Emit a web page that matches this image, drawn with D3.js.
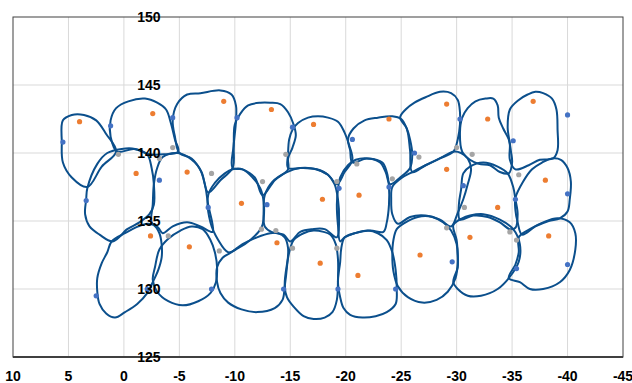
<!DOCTYPE html>
<html>
<head>
<meta charset="utf-8">
<script src="https://cdn.jsdelivr.net/npm/d3@7"></script>
<style>
  body { margin: 0; background: #fff; }
  text { font-family: "Liberation Sans", Arial, sans-serif; font-weight: bold; fill: #000; }
</style>
</head>
<body>
<svg id="chart"></svg>
<script>
const width = 632;
const height = 383;
const margin = { top: 17, right: 9, bottom: 26, left: 13 };

const xTicks = [10, 5, 0, -5, -10, -15, -20, -25, -30, -35, -40, -45];
const yTicks = [125, 130, 135, 140, 145, 150];

// outlines of the cells, one list of [x, y] per closed curve
const cells = [
  [[5.5,142.4],[4.7,142.8],[3.6,142.8],[2.5,142.4],[1.6,141.4],[0.7,140.1],[2.0,139.0],[3.3,137.5],[4.7,138.2],[5.5,139.3],[5.6,140.8]],
  [[1.2,142.4],[0.7,143.3],[-0.4,143.8],[-1.9,144.0],[-3.0,143.7],[-3.8,143.2],[-4.2,142.3],[-4.6,141.0],[-4.9,140.1],[-3.6,139.9],[-2.3,139.9],[-0.9,140.3],[0.6,140.1],[1.2,141.2]],
  [[-4.4,142.4],[-4.8,143.6],[-5.7,144.3],[-6.9,144.4],[-8.7,144.6],[-9.7,144.3],[-10.1,143.5],[-10.1,142.3],[-9.9,140.6],[-9.8,138.9],[-8.7,138.0],[-7.6,137.1],[-7.0,138.6],[-6.1,139.6],[-5.0,140.0],[-4.6,141.2]],
  [[-10.0,142.1],[-10.5,142.9],[-11.2,143.5],[-12.3,143.7],[-13.2,143.7],[-14.1,143.6],[-14.8,143.0],[-15.3,142.1],[-15.5,141.3],[-15.2,140.4],[-14.8,139.6],[-14.8,138.8],[-13.6,138.0],[-12.5,136.9],[-11.8,138.2],[-10.7,138.8],[-9.8,138.9],[-9.9,140.6]],
  [[-14.9,141.0],[-15.2,141.7],[-15.7,142.2],[-16.6,142.6],[-17.5,142.7],[-18.4,142.6],[-19.3,142.3],[-19.9,141.5],[-20.3,140.6],[-20.6,139.5],[-19.9,138.6],[-19.2,137.7],[-18.4,138.4],[-17.3,138.8],[-15.9,138.9],[-14.8,138.9],[-14.8,139.9]],
  [[-20.2,141.0],[-20.7,141.8],[-21.7,142.4],[-22.9,142.6],[-24.2,142.7],[-25.0,142.5],[-25.5,141.8],[-25.8,141.0],[-26.0,139.9],[-25.8,138.9],[-24.9,138.2],[-24.0,137.7],[-23.6,138.6],[-23.1,139.3],[-21.9,139.6],[-20.6,139.3],[-20.4,140.2]],
  [[-24.9,142.6],[-25.4,143.2],[-26.2,143.7],[-27.2,144.1],[-28.5,144.5],[-29.5,144.4],[-30.1,143.9],[-30.3,143.0],[-30.3,142.1],[-30.1,141.0],[-29.7,140.1],[-28.5,139.6],[-27.2,139.1],[-26.0,138.6],[-25.8,140.2],[-25.5,141.8]],
  [[-30.3,141.5],[-30.5,142.6],[-31.0,143.3],[-31.7,143.8],[-32.6,144.0],[-33.3,144.0],[-33.7,143.5],[-33.8,142.6],[-34.2,141.8],[-34.7,141.0],[-34.9,140.1],[-35.0,139.3],[-34.7,138.5],[-33.9,138.6],[-33.0,139.1],[-32.0,139.2],[-31.2,139.5],[-30.5,140.1]],
  [[-34.6,141.9],[-34.8,143.2],[-35.6,143.9],[-36.4,144.3],[-37.1,144.5],[-37.8,144.4],[-38.6,144.0],[-39.0,143.2],[-39.1,141.7],[-39.1,140.2],[-38.7,139.6],[-37.5,139.5],[-36.5,139.1],[-35.3,138.8],[-34.8,139.5],[-34.8,140.6]],
  [[3.3,137.4],[2.4,139.2],[1.5,140.0],[0.2,140.3],[-1.0,140.3],[-2.1,139.9],[-2.5,138.9],[-2.7,137.7],[-2.7,136.2],[-2.3,135.5],[-1.4,134.9],[-0.3,134.4],[1.0,133.5],[2.2,134.0],[3.1,134.6],[3.5,135.5],[3.4,136.6]],
  [[-3.0,138.9],[-3.5,139.7],[-4.8,140.0],[-5.8,139.7],[-6.8,138.9],[-7.3,137.7],[-7.6,136.2],[-8.0,134.7],[-8.0,134.2],[-6.9,134.6],[-5.7,134.9],[-4.4,134.6],[-3.5,134.1],[-3.1,134.5],[-2.5,134.9],[-2.6,136.2],[-2.7,137.7]],
  [[-7.6,136.9],[-8.2,137.8],[-9.1,138.5],[-9.8,138.8],[-10.7,138.8],[-11.6,138.2],[-12.3,137.4],[-12.6,136.4],[-12.6,135.2],[-12.4,134.5],[-11.4,133.6],[-10.3,133.0],[-9.4,132.7],[-8.5,133.6],[-7.8,134.9]],
  [[-12.7,136.9],[-13.4,137.9],[-14.7,138.6],[-15.9,138.9],[-17.4,138.8],[-18.4,138.4],[-19.0,137.7],[-19.3,136.6],[-19.4,135.1],[-19.2,133.8],[-18.1,134.4],[-17.0,134.4],[-15.9,134.2],[-15.0,133.5],[-14.4,134.0],[-13.3,134.2],[-12.7,134.6],[-12.6,135.8]],
  [[-19.5,138.2],[-20.2,139.1],[-20.9,139.5],[-22.0,139.6],[-23.3,139.3],[-23.7,138.6],[-23.9,137.5],[-23.9,136.2],[-23.7,134.9],[-23.4,134.2],[-22.2,134.3],[-20.8,134.1],[-19.9,133.8],[-19.5,133.5],[-19.3,134.7],[-19.2,136.2],[-19.3,137.3]],
  [[-24.2,137.5],[-25.1,138.2],[-26.0,138.6],[-27.2,139.1],[-28.7,139.7],[-29.7,140.1],[-30.4,140.0],[-31.0,139.6],[-31.3,138.8],[-31.0,137.7],[-30.6,136.6],[-30.1,135.6],[-29.5,134.6],[-28.5,135.1],[-27.2,135.4],[-25.8,135.3],[-24.7,134.8],[-24.2,135.5],[-24.1,136.6]],
  [[-30.6,138.5],[-31.2,139.0],[-32.4,139.3],[-33.7,139.0],[-34.6,138.5],[-35.1,137.5],[-35.3,136.6],[-35.5,135.5],[-35.3,134.5],[-34.8,134.4],[-33.9,134.9],[-32.8,135.3],[-31.5,135.4],[-30.3,135.1],[-30.2,136.2],[-30.4,137.3]],
  [[-35.3,136.7],[-36.0,137.9],[-36.8,138.8],[-37.7,139.3],[-38.6,139.6],[-39.4,139.5],[-40.0,138.9],[-40.3,137.9],[-40.2,136.6],[-40.0,135.7],[-39.3,135.2],[-38.3,135.0],[-37.1,134.6],[-35.9,134.0],[-35.5,134.9],[-35.3,135.8]],
  [[1.1,133.5],[-0.1,134.1],[-1.3,134.6],[-2.1,134.8],[-2.7,134.7],[-3.2,134.1],[-3.4,133.3],[-3.4,132.3],[-3.1,131.4],[-2.6,130.5],[-2.1,129.7],[-1.2,128.9],[-0.1,128.3],[0.8,127.9],[1.6,128.2],[2.2,128.9],[2.4,129.8],[2.4,130.8],[2.0,131.9],[1.5,132.7]],
  [[-2.8,131.6],[-3.2,132.9],[-4.0,133.7],[-5.1,134.3],[-6.1,134.6],[-7.1,134.4],[-7.8,133.6],[-8.2,132.7],[-8.4,131.6],[-8.3,130.5],[-7.8,129.7],[-6.7,129.1],[-5.3,128.8],[-4.0,129.1],[-3.0,129.8],[-2.6,130.7]],
  [[-8.4,131.6],[-8.9,132.3],[-9.7,132.7],[-10.7,133.3],[-12.0,133.8],[-13.2,134.1],[-13.9,134.1],[-14.5,133.8],[-14.8,133.0],[-14.7,131.6],[-14.5,130.2],[-14.3,129.2],[-13.6,128.6],[-12.0,128.3],[-10.6,128.5],[-9.4,129.0],[-8.7,129.7],[-8.4,130.5]],
  [[-15.0,133.0],[-15.3,133.6],[-16.2,134.1],[-17.1,134.3],[-18.0,134.2],[-18.6,134.0],[-19.1,133.3],[-19.3,132.2],[-19.3,130.7],[-19.2,129.2],[-18.8,128.3],[-18.1,127.9],[-17.1,127.8],[-16.2,128.0],[-15.3,128.7],[-14.7,129.4],[-14.5,130.3],[-14.7,131.8]],
  [[-19.3,130.5],[-19.5,132.0],[-19.6,133.0],[-19.9,133.8],[-20.8,134.1],[-22.0,134.3],[-22.9,134.1],[-23.7,133.6],[-24.2,132.7],[-24.5,131.4],[-24.6,130.0],[-24.5,128.9],[-23.7,128.3],[-22.7,128.0],[-21.5,127.9],[-20.4,128.1],[-19.8,128.6],[-19.5,129.4]],
  [[-24.3,133.6],[-24.6,134.4],[-25.4,134.9],[-26.5,135.3],[-27.8,135.3],[-28.8,134.9],[-29.5,134.3],[-30.0,133.3],[-30.1,132.0],[-29.9,130.8],[-29.2,129.8],[-28.2,129.2],[-26.9,129.0],[-25.6,129.4],[-24.7,130.2],[-24.3,131.3],[-24.2,132.5]],
  [[-29.7,134.7],[-30.5,135.2],[-31.2,135.4],[-32.4,135.5],[-33.9,135.1],[-35.1,134.4],[-35.7,133.3],[-35.6,132.0],[-34.8,130.9],[-33.7,130.0],[-32.2,129.5],[-31.0,129.5],[-30.1,130.0],[-29.7,130.5],[-30.1,131.6],[-30.1,132.5],[-30.0,133.6]],
  [[-35.6,133.8],[-36.6,134.4],[-37.8,134.9],[-39.1,135.2],[-40.2,134.9],[-40.7,134.1],[-40.7,132.9],[-40.2,131.4],[-39.3,130.5],[-37.8,130.0],[-36.6,130.0],[-35.7,130.5],[-34.7,130.8],[-35.3,131.8],[-35.6,132.7]]
];

const orangePts = [[4.0,142.3],[-2.6,142.9],[-1.1,138.5],[-5.7,138.6],[-9.0,143.8],[-13.3,143.2],[-17.1,142.1],[-23.9,142.5],[-29.1,143.6],[-32.8,142.5],[-36.9,143.8],[-29.1,138.8],[-21.2,136.9],[-17.9,136.6],[-10.6,136.3],[-2.4,133.9],[-5.9,133.1],[-13.8,133.4],[-17.7,131.9],[-21.1,131.0],[-26.7,132.5],[-31.2,133.8],[-33.7,136.0],[-38.0,138.0],[-38.3,133.9]];

const grayPts = [[0.5,139.9],[-4.4,140.4],[-3.2,139.6],[-7.9,138.5],[-12.5,137.9],[-14.6,139.9],[-21.0,139.2],[-19.2,137.9],[-24.2,138.1],[-26.6,139.7],[-30.0,140.4],[-31.4,139.9],[-35.6,138.4],[-4.0,133.9],[-8.6,132.8],[-12.4,134.4],[-13.7,134.3],[-15.2,133.0],[-19.2,133.0],[-30.7,136.0],[-29.1,134.5],[-34.8,134.2],[-35.4,133.6]];

const bluePts = [[5.5,140.8],[1.2,142.0],[-4.4,142.6],[-3.2,138.0],[-10.2,142.6],[-15.2,141.9],[-20.6,141.0],[-19.4,137.4],[-23.9,137.5],[-26.2,140.0],[-30.3,142.5],[-30.6,137.6],[-35.1,140.9],[-40.0,142.8],[-40.0,137.0],[3.4,136.5],[2.5,129.5],[-2.1,130.0],[-7.6,136.0],[-12.9,136.2],[-7.9,130.0],[-14.4,130.0],[-19.3,130.0],[-24.5,130.0],[-29.6,132.0],[-35.3,136.6],[-35.4,131.5],[-40.0,131.8]];

const svg = d3.select("#chart")
  .attr("width", width)
  .attr("height", height);

const xScale = d3.scaleLinear()
  .domain([10, -45])
  .range([margin.left, width - margin.right]);

const yScale = d3.scaleLinear()
  .domain([125, 150])
  .range([height - margin.bottom, margin.top]);

// gridlines
svg.append("g")
  .selectAll("line")
  .data(xTicks.slice(1, -1))
  .enter()
  .append("line")
    .attr("x1", d => xScale(d))
    .attr("x2", d => xScale(d))
    .attr("y1", yScale(150))
    .attr("y2", yScale(125))
    .attr("stroke", "#d9d9d9")
    .attr("stroke-width", 1);

svg.append("g")
  .selectAll("line")
  .data(yTicks.slice(1, -1))
  .enter()
  .append("line")
    .attr("x1", xScale(10))
    .attr("x2", xScale(-45))
    .attr("y1", d => yScale(d))
    .attr("y2", d => yScale(d))
    .attr("stroke", "#d9d9d9")
    .attr("stroke-width", 1);

// cell outlines
const outline = d3.line()
  .x(d => xScale(d[0]))
  .y(d => yScale(d[1]))
  .curve(d3.curveCatmullRomClosed.alpha(0.5));

svg.append("g")
  .selectAll("path")
  .data(cells)
  .enter()
  .append("path")
    .attr("d", outline)
    .attr("fill", "none")
    .attr("stroke", "#0b4f8c")
    .attr("stroke-width", 2)
    .attr("stroke-linejoin", "round");

// points
function drawPoints(pts, color) {
  svg.append("g")
    .selectAll("circle")
    .data(pts)
    .enter()
    .append("circle")
      .attr("cx", d => xScale(d[0]))
      .attr("cy", d => yScale(d[1]))
      .attr("r", 2.6)
      .style("fill", color);
}
drawPoints(orangePts, "#ed7d31");
drawPoints(grayPts, "#a5a5a5");
drawPoints(bluePts, "#4472c4");

// plot frame
svg.append("rect")
  .attr("x", xScale(10))
  .attr("y", yScale(150))
  .attr("width", xScale(-45) - xScale(10))
  .attr("height", yScale(125) - yScale(150))
  .attr("fill", "none")
  .attr("stroke", "#404040")
  .attr("stroke-width", 1);

svg.append("line")
  .attr("x1", xScale(10))
  .attr("x2", xScale(-45))
  .attr("y1", yScale(125))
  .attr("y2", yScale(125))
  .attr("stroke", "#404040")
  .attr("stroke-width", 2);

// axis labels
svg.append("g")
  .selectAll("text")
  .data(xTicks)
  .enter()
  .append("text")
    .attr("x", d => xScale(d))
    .attr("y", 381)
    .attr("text-anchor", "middle")
    .style("font-size", "14px")
    .text(d => d);

svg.append("g")
  .selectAll("text")
  .data(yTicks)
  .enter()
  .append("text")
    .attr("x", xScale(0) + 25)
    .attr("y", d => yScale(d))
    .attr("dy", "0.36em")
    .attr("text-anchor", "middle")
    .style("font-size", "14px")
    .text(d => d);
</script>
</body>
</html>
